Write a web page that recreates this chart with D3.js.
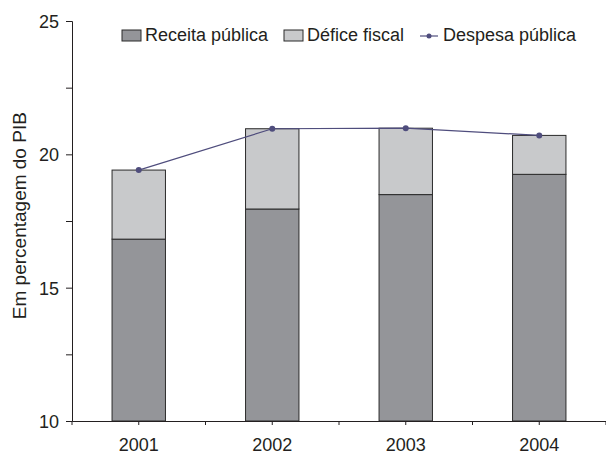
<!DOCTYPE html>
<html>
<head>
<meta charset="utf-8">
<script src="https://cdn.jsdelivr.net/npm/d3@7"></script>
<style>
  body { margin: 0; background: #fff; }
  text { font-family: "Liberation Sans", Arial, sans-serif; fill: #231f20; }
</style>
</head>
<body>
<div id="chart-area"></div>
<script>
// data
const years = ["2001", "2002", "2003", "2004"]
const receita = [16.82, 17.95, 18.49, 19.25]
const defice = [2.59, 3.01, 2.49, 1.46]
const despesa = [19.41, 20.96, 20.98, 20.71]
const yTicks = [10, 15, 20, 25]
const yMinorTicks = [12.5, 17.5, 22.5]

const W = 606, H = 455
const MARGIN = { LEFT: 72, RIGHT: 0, TOP: 21, BOTTOM: 34 }
const WIDTH = W - MARGIN.LEFT - MARGIN.RIGHT
const HEIGHT = H - MARGIN.TOP - MARGIN.BOTTOM

const svg = d3.select("#chart-area").append("svg")
  .attr("width", W)
  .attr("height", H)

const g = svg.append("g")
  .attr("transform", `translate(${MARGIN.LEFT}, ${MARGIN.TOP})`)

const x = d3.scaleBand()
  .domain(years)
  .range([0, WIDTH])
  .paddingInner(0.6)
  .paddingOuter(0.3)

const y = d3.scaleLinear()
  .domain([10, 25])
  .range([HEIGHT, 0])

// stacked bars
const rows = years.map((yr, i) => ({ year: yr, receita: receita[i], defice: defice[i] }))
const series = d3.stack().keys(["receita", "defice"])(rows)
const colors = { receita: "#949599", defice: "#c8c9cb" }

g.selectAll("g.layer")
  .data(series)
  .enter().append("g")
    .attr("class", "layer")
    .attr("fill", d => colors[d.key])
  .selectAll("rect")
  .data(d => d)
  .enter().append("rect")
    .attr("x", d => x(d.data.year))
    .attr("width", x.bandwidth())
    .attr("y", d => y(d[1]))
    .attr("height", d => y(Math.max(d[0], 10)) - y(d[1]))
    .attr("stroke", "#2a2a2a")
    .attr("stroke-width", 1)

// despesa line
const lineColor = "#4f4d7d"
const line = d3.line()
  .x((d, i) => x(years[i]) + x.bandwidth() / 2)
  .y(d => y(d))

g.append("path")
  .datum(despesa)
  .attr("fill", "none")
  .attr("stroke", lineColor)
  .attr("stroke-width", 1.2)
  .attr("d", line)

g.selectAll("circle.dot")
  .data(despesa)
  .enter().append("circle")
    .attr("class", "dot")
    .attr("cx", (d, i) => x(years[i]) + x.bandwidth() / 2)
    .attr("cy", d => y(d))
    .attr("r", 3)
    .attr("fill", lineColor)

// y axis
const yAxisCall = d3.axisLeft(y)
  .tickValues(yTicks.concat(yMinorTicks))
  .tickSize(6)
  .tickFormat(d => yTicks.includes(d) ? d : "")
const yAxisGroup = g.append("g").call(yAxisCall)
yAxisGroup.select(".domain").attr("stroke", "#231f20")
yAxisGroup.selectAll(".tick line").attr("stroke", "#231f20")
yAxisGroup.selectAll("text")
  .attr("font-size", "18px")
  .attr("x", -13)
  .attr("dy", "0.36em")

// x axis: centre ticks with labels, plus band boundary ticks
const xAxisCall = d3.axisBottom(x).tickSize(4).tickSizeOuter(0)
const xAxisGroup = g.append("g")
  .attr("transform", `translate(0, ${HEIGHT})`)
  .call(xAxisCall)
xAxisGroup.select(".domain").attr("stroke", "#231f20")
xAxisGroup.selectAll(".tick line").attr("stroke", "#231f20")
xAxisGroup.selectAll("text")
  .attr("font-size", "18px")
  .attr("y", 17)

const step = x.step()
const bounds = d3.range(0, years.length + 1).map(i => i * step)
xAxisGroup.selectAll("line.bound")
  .data(bounds)
  .enter().append("line")
    .attr("class", "bound")
    .attr("x1", d => d).attr("x2", d => d)
    .attr("y1", 0).attr("y2", 4)
    .attr("stroke", "#231f20")

// y label
g.append("text")
  .attr("transform", "rotate(-90)")
  .attr("x", -y(17.7))
  .attr("y", -46)
  .attr("text-anchor", "middle")
  .attr("font-size", "19px")
  .text("Em percentagem do PIB")

// legend
const legend = svg.append("g").attr("transform", "translate(0, 41)")
const legendItems = [
  { label: "Receita pública", type: "box", fill: colors.receita, x: 122 },
  { label: "Défice fiscal", type: "box", fill: colors.defice, x: 284 },
  { label: "Despesa pública", type: "line", fill: lineColor, x: 420 }
]
legendItems.forEach(d => {
  if (d.type === "box") {
    legend.append("rect")
      .attr("x", d.x).attr("y", -11)
      .attr("width", 19).attr("height", 11)
      .attr("fill", d.fill)
      .attr("stroke", "#2a2a2a")
  } else {
    legend.append("line")
      .attr("x1", d.x).attr("x2", d.x + 18)
      .attr("y1", -5).attr("y2", -5)
      .attr("stroke", d.fill).attr("stroke-width", 1.2)
    legend.append("circle")
      .attr("cx", d.x + 9).attr("cy", -5).attr("r", 2.5)
      .attr("fill", d.fill)
  }
  legend.append("text")
    .attr("x", d.x + 23)
    .attr("font-size", "18px")
    .text(d.label)
})
</script>
</body>
</html>
